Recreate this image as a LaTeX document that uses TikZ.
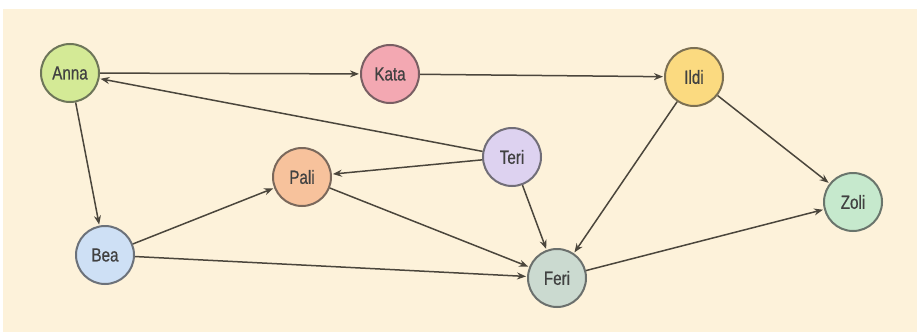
\documentclass[tikz,border=0pt]{standalone}
\usepackage{fontspec}
\setmainfont{Liberation Sans}[FakeStretch=0.8,FakeBold=0.6]
\usetikzlibrary{arrows.meta}
\definecolor{bg}{RGB}{253,242,218}
\definecolor{cAnna}{RGB}{212,234,150}
\definecolor{cKata}{RGB}{243,168,178}
\definecolor{cIldi}{RGB}{251,218,128}
\definecolor{cTeri}{RGB}{221,210,240}
\definecolor{cPali}{RGB}{247,194,156}
\definecolor{cBea}{RGB}{206,224,245}
\definecolor{cFeri}{RGB}{203,218,208}
\definecolor{cZoli}{RGB}{198,233,205}
\definecolor{edgecol}{RGB}{75,70,60}
\definecolor{txt}{RGB}{65,65,65}
\tikzset{
  person/.style={circle, minimum size=58pt, inner sep=0pt, line width=2pt,
    fill=#1, draw=#1!40!black!85, text=txt, font=\fontsize{19}{19}\selectfont},
  link/.style={draw=edgecol, line width=1.5pt, -{Stealth[length=9pt,width=7pt]}, shorten >=1pt}
}
\begin{document}
\begin{tikzpicture}[x=1pt,y=-1pt]
\useasboundingbox (0,0) rectangle (917,332);
\fill[white] (0,0) rectangle (917,332);
\fill[bg] (3,9) rectangle (917,332);
\node[person=cAnna] (anna) at (70,73) {Anna};
\node[person=cKata] (kata) at (390,74) {Kata};
\node[person=cIldi] (ildi) at (694,77) {Ildi};
\node[person=cTeri] (teri) at (512,157) {Teri};
\node[person=cPali] (pali) at (302,177) {Pali};
\node[person=cBea] (bea) at (105,255) {Bea};
\node[person=cFeri] (feri) at (557,278) {Feri};
\node[person=cZoli] (zoli) at (853,202) {Zoli};
\draw[link] (anna) -- (kata);
\draw[link] (kata) -- (ildi);
\draw[link] (teri) -- (anna);
\draw[link] (teri) -- (pali);
\draw[link] (teri) -- (feri);
\draw[link] (anna) -- (bea);
\draw[link] (bea) -- (pali);
\draw[link] (bea) -- (feri);
\draw[link] (pali) -- (feri);
\draw[link] (ildi) -- (feri);
\draw[link] (ildi) -- (zoli);
\draw[link] (feri) -- (zoli);
\end{tikzpicture}
\end{document}
